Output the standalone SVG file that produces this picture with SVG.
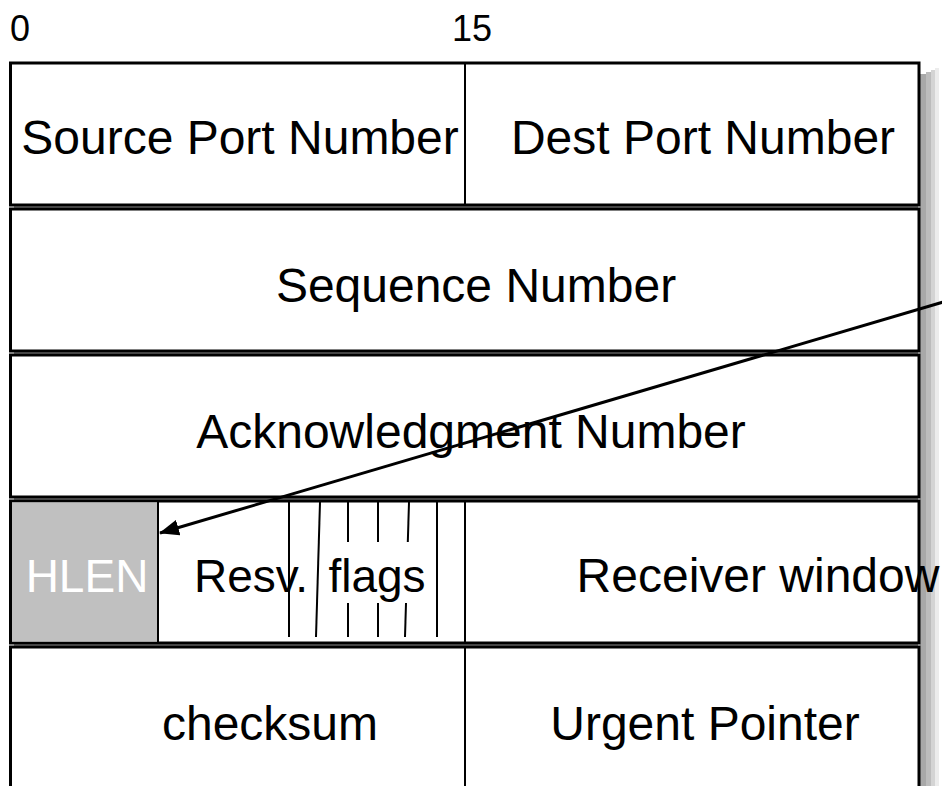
<svg xmlns="http://www.w3.org/2000/svg" width="942" height="786" viewBox="0 0 942 786">
<defs>
<marker id="arrow" viewBox="0 0 20 16" refX="19" refY="8" markerWidth="20" markerHeight="16" markerUnits="userSpaceOnUse" orient="auto">
<path d="M0,0 L20,8 L0,16 Z" fill="#000"/>
</marker>
<style>
.row{fill:#fff;stroke:#000;stroke-width:3}
.div{stroke:#000;stroke-width:2;fill:none}
.flag{stroke:#000;stroke-width:2;fill:none}
.t{font-family:"Liberation Sans",Arial,sans-serif;font-size:48px;fill:#000;text-anchor:middle}
.t46{font-family:"Liberation Sans",Arial,sans-serif;font-size:46px;fill:#000;text-anchor:middle}
.lbl{font-family:"Liberation Sans",Arial,sans-serif;font-size:36px;fill:#000}
</style>
</defs>
<rect width="942" height="786" fill="#fff"/>
<text class="lbl" x="10" y="41">0</text>
<text class="lbl" x="452" y="41">15</text>
<g id="shadow">
<rect x="920" y="74" width="6" height="712" fill="#a8a8a8"/>
<rect x="926" y="72" width="5" height="714" fill="#bcbcbc"/>
<rect x="931" y="70" width="4" height="716" fill="#d4d4d4"/>
<rect x="935" y="68" width="4" height="718" fill="#ececec"/>
</g>
<rect x="14" y="64" width="904" height="722" fill="#8a8a8a"/>
<g id="row1"><rect class="row" x="10.5" y="63" width="908.5" height="142"/><line class="div" x1="465" y1="63" x2="465" y2="205"/></g>
<g id="row2"><rect class="row" x="10.5" y="209" width="908.5" height="142"/></g>
<g id="row3"><rect class="row" x="10.5" y="355" width="908.5" height="142"/></g>
<g id="row4"><rect class="row" x="10.5" y="501" width="908.5" height="142"/></g>
<g id="row5"><rect class="row" x="10.5" y="647" width="908.5" height="160"/></g>
<g id="source-port"><text class="t" x="240" y="154">Source Port Number</text></g>
<g id="dest-port"><text class="t" x="703" y="154">Dest Port Number</text></g>
<g id="sequence"><text class="t" x="476" y="302">Sequence Number</text></g>
<g id="ack"><text class="t" x="471" y="448">Acknowledgment Number</text></g>
<g id="hlen">
<rect x="12" y="502.5" width="146" height="139" fill="#c0c0c0"/>
<line class="div" x1="158" y1="501" x2="158" y2="643"/>
<text class="t46" x="87" y="592" style="fill:#fff">HLEN</text>
</g>
<g id="resv"><text class="t46" x="251" y="592">Resv.</text></g>
<g id="flags">
<line class="flag" x1="289" y1="502" x2="289" y2="637"/>
<line class="flag" x1="320" y1="502" x2="316" y2="637"/>
<line class="flag" x1="348" y1="502" x2="348" y2="637"/>
<line class="flag" x1="378" y1="502" x2="378" y2="637"/>
<line class="flag" x1="409" y1="502" x2="405" y2="637"/>
<line class="flag" x1="437" y1="502" x2="437" y2="637"/>
<rect x="321" y="542" width="113" height="61" fill="#fff"/>
<text class="t46" x="377" y="592">flags</text>
</g>
<g id="receiver"><line class="div" x1="465" y1="501" x2="465" y2="643"/><text class="t" x="758" y="592">Receiver window</text></g>
<g id="checksum"><line class="div" x1="465" y1="647" x2="465" y2="786"/><text class="t" x="270" y="740">checksum</text></g>
<g id="urgent"><text class="t" x="705" y="740">Urgent Pointer</text></g>
<g id="connectors">
<line x1="945" y1="301.5" x2="160" y2="533" stroke="#000" stroke-width="3" marker-end="url(#arrow)"/>
</g>
</svg>
